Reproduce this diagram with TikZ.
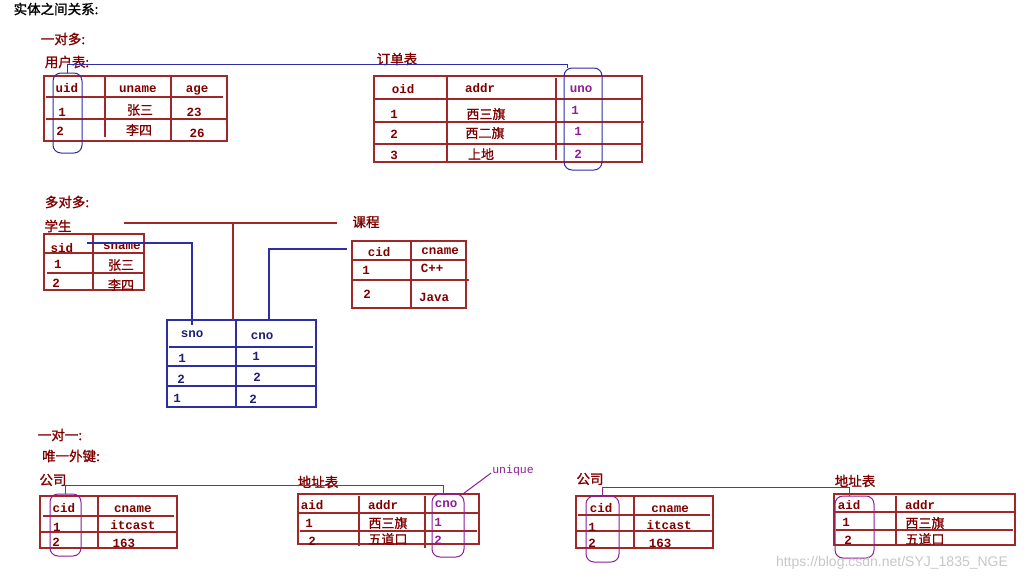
\documentclass[tikz,border=0pt]{standalone}
\usepackage{fontspec}
\setmainfont{Liberation Serif}
\newfontfamily\cjk[FakeBold=0.8]{Noto Sans CJK SC}
\newfontfamily\cjkb[FakeBold=1.2]{Noto Sans CJK SC}
\newfontfamily\mono{Liberation Mono}
\newfontfamily\wmfont{Liberation Sans}
\usetikzlibrary{calc}
\definecolor{dred}{RGB}{128,0,0}
\definecolor{lred}{RGB}{160,40,40}
\definecolor{bl}{RGB}{45,45,165}
\definecolor{navy}{RGB}{30,30,120}
\definecolor{pur}{RGB}{140,30,150}
\tikzset{
  tx/.style={font=\mono\bfseries\fontsize{12.5}{12.5}\selectfont, text=dred, inner sep=0pt},
  cx/.style={font=\cjk\fontsize{13}{13}\selectfont, text=dred, inner sep=0pt},
  lbl/.style={font=\cjkb\fontsize{13.5}{13.5}\selectfont, text=dred, inner sep=0pt},
  tline/.style={draw=lred, line width=1.1pt},
  bline/.style={draw=bl, line width=1.1pt},
  pline/.style={draw=pur, line width=1pt},
  bbox/.style={draw=bl, line width=1pt, rounded corners=8pt, inner sep=0pt},
  pbox/.style={draw=pur, line width=1pt, rounded corners=8pt, inner sep=0pt},
}
\begin{document}
\begin{tikzpicture}[x=1pt,y=-1pt]
\fill[white] (0,0) rectangle (1033,582);
\useasboundingbox (0,0) rectangle (1033,582);

% ---------- titles ----------
\node[lbl, text=black] (title) at (56,9) {实体之间关系:};
\node[lbl] (one2many) at (63,39) {一对多:};
\node[lbl] (usertitle) at (67,62) {用户表:};
\node[lbl] (ordertitle) at (397,59) {订单表};

% ---------- user table ----------
\draw[tline] (44,76) rectangle (227,141);
\draw[tline] (105,77) -- (105,137);
\draw[tline] (171,77) -- (171,141);
\draw[tline] (46,97) -- (223,97);
\draw[tline] (46,119) -- (227,119);
\node[tx] (uidh) at (67,88) {uid};
\node[tx] (unameh) at (138,89) {uname};
\node[tx] (ageh) at (197,90) {age};
\node[tx] (u1) at (62,112) {1};
\node[cx] (un1) at (140,110) {张三};
\node[tx] (ua1) at (194,112) {23};
\node[tx] (u2) at (60,131) {2};
\node[cx] (un2) at (139,130) {李四};
\node[tx] (ua2) at (197,133) {26};

% ---------- order table ----------
\draw[tline] (374,76) rectangle (642,162);
\draw[tline] (447,77) -- (447,161);
\draw[tline] (556,78) -- (556,160);
\draw[tline] (374,99) -- (642,99);
\draw[tline] (374,122) -- (644,122);
\draw[tline] (374,144) -- (642,144);
\node[tx] (oidh) at (403,89) {oid};
\node[tx] (addrh) at (480,88) {addr};
\node[tx, text=pur] (unoh) at (581,89) {uno};
\node[tx] (o1) at (394,114) {1};
\node[cx] (oa1) at (486,114) {西三旗};
\node[tx, text=pur] (ou1) at (575,110) {1};
\node[tx] (o2) at (394,134) {2};
\node[cx] (oa2) at (485,133) {西二旗};
\node[tx, text=pur] (ou2) at (578,131) {1};
\node[tx] (o3) at (394,155) {3};
\node[cx] (oa3) at (481,154) {上地};
\node[tx, text=pur] (ou3) at (578,154) {2};

% key boxes and link
\node[bbox, minimum width=29pt, minimum height=80pt] (uidbox) at (67.5,113) {};
\node[bbox, minimum width=38pt, minimum height=102pt] (unobox) at (583,119) {};
\draw[bline] (uidbox.north) -- ++(0,-8) -| ($(unobox.north west)+(4,0)$);

% ---------- many to many ----------
\node[lbl] (many2many) at (67,202) {多对多:};
\node[lbl] (stutitle) at (58,226) {学生};
\node[lbl] (crstitle) at (366,222) {课程};

% student table
\draw[tline] (44,234) rectangle (144,290);
\draw[tline] (93,234) -- (93,290);
\draw[tline] (44,253) -- (144,253);
\draw[tline] (47,273) -- (144,273);
\node[tx] (sidh) at (62,248) {sid};
\node[tx] (snameh) at (122,246) {sname};
\node[tx] (s1) at (58,264) {1};
\node[cx] (sn1) at (121,265) {张三};
\node[tx] (s2) at (56,283) {2};
\node[cx] (sn2) at (121,285) {李四};

% course table
\draw[tline] (352,241) rectangle (466,308);
\draw[tline] (411,241) -- (411,308);
\draw[tline] (352,260) -- (466,260);
\draw[tline] (352,280) -- (469,280);
\node[tx] (cidh) at (379,252) {cid};
\node[tx] (cnameh) at (440,251) {cname};
\node[tx] (c1) at (366,270) {1};
\node[tx] (cn1) at (432,268) {C++};
\node[tx] (c2) at (367,294) {2};
\node[tx] (cn2) at (434,297) {Java};

% link table
\draw[bline] (167,320) rectangle (316,407);
\draw[bline] (236,320) -- (236,407);
\draw[bline] (169,347) -- (313,347);
\draw[bline] (167,366) -- (316,366);
\draw[bline] (167,386) -- (316,386);
\node[tx, text=navy] (snoh) at (192,334) {sno};
\node[tx, text=navy] (cnoh) at (262,336) {cno};
\node[tx, text=navy] (l11) at (182,358) {1};
\node[tx, text=navy] (l12) at (256,356) {1};
\node[tx, text=navy] (l21) at (181,379) {2};
\node[tx, text=navy] (l22) at (257,377) {2};
\node[tx, text=navy] (l31) at (177,398) {1};
\node[tx, text=navy] (l32) at (253,399) {2};

% connectors
\coordinate (sidend) at (87,243);
\coordinate (snotop) at (192,325);
\draw[bline] (sidend) -| (snotop);
\coordinate (mmL) at (124,223);
\coordinate (mmR) at (337,223);
\coordinate (mmD) at (233,320);
\draw[tline] (mmL) -- (mmR);
\draw[tline] (mmD) -- (mmD |- mmL);
\coordinate (cnoup) at (269,320);
\coordinate (crsend) at (347,249);
\draw[bline] (cnoup) |- (crsend);

% ---------- one to one ----------
\node[lbl] (one2one) at (60,435) {一对一:};
\node[lbl] (ufk) at (71,456) {唯一外键:};
\node[lbl] (comp1title) at (53,480) {公司};
\node[lbl] (addr1title) at (318,482) {地址表};
\node[lbl] (comp2title) at (590,479) {公司};
\node[lbl] (addr2title) at (855,481) {地址表};

% company 1
\draw[tline] (40,496) rectangle (177,548);
\draw[tline] (98,496) -- (98,548);
\draw[tline] (43,516) -- (174,516);
\draw[tline] (40,532) -- (177,532);
\node[tx] (cp1h1) at (64,508) {cid};
\node[tx] (cp1h2) at (133,509) {cname};
\node[tx] (cp1a) at (57,527) {1};
\node[tx] (cp1b) at (133,525) {itcast};
\node[tx] (cp1c) at (56,542) {2};
\node[tx] (cp1d) at (124,543) {163};

% address 1
\draw[tline] (298,494) rectangle (479,544);
\draw[tline] (359,496) -- (359,546);
\draw[tline] (425,496) -- (425,548);
\draw[tline] (298,513) -- (479,513);
\draw[tline] (300,531) -- (477,531);
\node[tx] (ad1h1) at (312,505) {aid};
\node[tx] (ad1h2) at (383,505) {addr};
\node[tx, text=pur] (ad1h3) at (446,504) {cno};
\node[tx] (ad1a) at (309,523) {1};
\node[cx] (ad1b) at (388,523) {西三旗};
\node[tx, text=pur] (ad1c) at (438,522) {1};
\node[tx] (ad1d) at (312,541) {2};
\node[cx] (ad1e) at (388,539) {五道口};
\node[tx, text=pur] (ad1f) at (438,540) {2};

\node[pbox, minimum width=31pt, minimum height=62pt] (cidbox1) at (65.5,525) {};
\node[pbox, minimum width=32pt, minimum height=63pt] (cnobox) at (448,525.5) {};
\draw[pline] (cidbox1.north) -- ++(0,-8) -| ($(cnobox.north)+(-5,0)$);
\node[font=\mono\fontsize{11.5}{11.5}\selectfont, text=pur, inner sep=0pt] (uniq) at (513,471) {unique};
\draw[pline] ($(cnobox.north east)+(-1,0)$) -- ($(uniq.west)+(-1,2)$);

% company 2
\draw[tline] (576,496) rectangle (713,548);
\draw[tline] (634,496) -- (634,548);
\draw[tline] (578,515) -- (710,515);
\draw[tline] (576,531) -- (713,531);
\node[tx] (cp2h1) at (601,508) {cid};
\node[tx] (cp2h2) at (670,509) {cname};
\node[tx] (cp2a) at (592,527) {1};
\node[tx] (cp2b) at (669,525) {itcast};
\node[tx] (cp2c) at (592,543) {2};
\node[tx] (cp2d) at (660,543) {163};

% address 2
\draw[tline] (834,494) rectangle (1015,545);
\draw[tline] (896,496) -- (896,545);
\draw[tline] (834,512) -- (1015,512);
\draw[tline] (836,530) -- (1013,530);
\node[tx] (ad2h1) at (849,505) {aid};
\node[tx] (ad2h2) at (920,505) {addr};
\node[tx] (ad2a) at (846,522) {1};
\node[cx] (ad2b) at (925,523) {西三旗};
\node[tx] (ad2c) at (848,540) {2};
\node[cx] (ad2d) at (925,539) {五道口};

\node[pbox, minimum width=33pt, minimum height=66pt] (cidbox2) at (602.5,529) {};
\node[pbox, minimum width=39pt, minimum height=62pt] (aidbox) at (854.5,527) {};
\draw[pline] (cidbox2.north) -- ++(0,-8) -| ($(aidbox.north)+(-5,0)$);

% watermark
\node[font=\wmfont\fontsize{14}{14}\selectfont, text=black!22, inner sep=0pt] (wm) at (892,563) {https://blog.csdn.net/SYJ\_1835\_NGE};
\end{tikzpicture}
\end{document}
